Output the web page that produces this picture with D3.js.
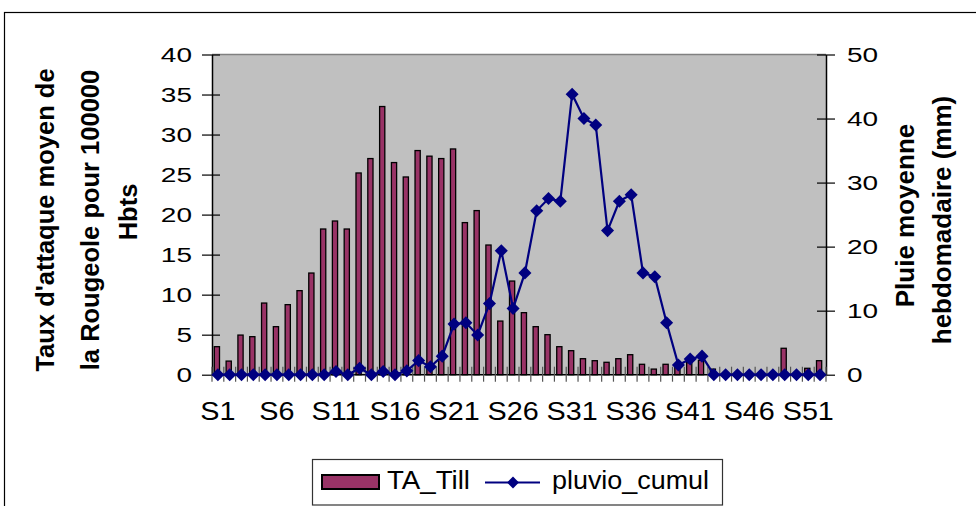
<!DOCTYPE html>
<html>
<head>
<meta charset="utf-8">
<script src="https://cdn.jsdelivr.net/npm/d3@7"></script>
<style>
  html, body { margin: 0; padding: 0; background: #fff; }
  svg { display: block; }
  text { font-family: "Liberation Sans", Arial, sans-serif; fill: #000; }
</style>
</head>
<body>
<svg id="chart" width="976" height="506"></svg>
<script>
// Weekly measles attack rate (bars, left axis) and weekly mean rainfall (line, right axis)
const weeks = ["S1","S2","S3","S4","S5","S6","S7","S8","S9","S10",
  "S11","S12","S13","S14","S15","S16","S17","S18","S19","S20",
  "S21","S22","S23","S24","S25","S26","S27","S28","S29","S30",
  "S31","S32","S33","S34","S35","S36","S37","S38","S39","S40",
  "S41","S42","S43","S44","S45","S46","S47","S48","S49","S50",
  "S51","S52"];

const taTill = [3.5, 1.7, 4.95, 4.75, 8.95, 6.0, 8.75, 10.5, 12.7, 18.2,
  19.2, 18.2, 25.2, 27.0, 33.5, 26.5, 24.7, 28.0, 27.3, 27.0,
  28.2, 19.0, 20.5, 16.2, 6.7, 11.7, 7.75, 6.0, 5.0, 3.5,
  3.0, 2.0, 1.75, 1.55, 2.0, 2.5, 1.3, 0.7, 1.3, 1.3,
  1.5, 1.8, 0.7, 0, 0, 0, 0, 0, 3.3, 0,
  0.8, 1.75];

const pluvioCumul = [0, 0, 0, 0, 0, 0, 0, 0, 0, 0,
  0.5, 0, 1.0, 0, 0.5, 0, 0.6, 2.2, 1.25, 2.9,
  7.9, 8.1, 6.2, 11.1, 19.35, 10.35, 15.9, 25.6, 27.5, 27.1,
  43.8, 40.0, 39.0, 22.5, 27.1, 28.1, 15.9, 15.3, 8.1, 1.5,
  2.45, 2.9, 0, 0, 0, 0, 0, 0, 0, 0,
  0, 0];

const leftTicks = [0, 5, 10, 15, 20, 25, 30, 35, 40];
const rightTicks = [0, 10, 20, 30, 40, 50];
const weekLabels = ["S1","S6","S11","S16","S21","S26","S31","S36","S41","S46","S51"];

const seriesNames = ["TA_Till", "pluvio_cumul"];
const leftTitle = ["Taux d'attaque moyen de", "la Rougeole pour 100000", "Hbts"];
const rightTitle = ["Pluie moyenne", "hebdomadaire (mm)"];

const barColor = "#993366";
const lineColor = "#000080";

const svg = d3.select("#chart");
const plot = { left: 212, right: 826, top: 54.5, bottom: 374.7 };

// Outer chart frame
svg.append("rect")
  .attr("x", 4.5).attr("y", 12.5)
  .attr("width", 1100).attr("height", 700)
  .attr("fill", "#fff").attr("stroke", "#000").attr("stroke-width", 1.2);

const x = d3.scaleBand().domain(weeks).range([plot.left, plot.right]).padding(0);
const yL = d3.scaleLinear().domain([0, 40]).range([plot.bottom, plot.top]);
const yR = d3.scaleLinear().domain([0, 50]).range([plot.bottom, plot.top]);

// Plot area background
svg.append("rect")
  .attr("x", plot.left).attr("y", plot.top)
  .attr("width", plot.right - plot.left).attr("height", plot.bottom - plot.top)
  .attr("fill", "#c0c0c0");
svg.append("line")
  .attr("x1", plot.left).attr("x2", plot.right)
  .attr("y1", plot.top).attr("y2", plot.top)
  .attr("stroke", "#808080").attr("stroke-width", 1.5);

// Bars
const barW = 5.2;
svg.append("g").selectAll("rect")
  .data(weeks.map((w, i) => ({ w, v: taTill[i] })))
  .join("rect")
  .attr("x", d => x(d.w) + x.bandwidth() / 2 - barW / 2 - 1)
  .attr("y", d => yL(d.v))
  .attr("width", barW)
  .attr("height", d => plot.bottom - yL(d.v))
  .attr("fill", barColor)
  .attr("stroke", "#000")
  .attr("stroke-width", 1.3);

// Left axis
const gL = svg.append("g").attr("transform", `translate(${plot.left},0)`)
  .call(d3.axisLeft(yL).tickValues(leftTicks).tickSizeInner(10).tickSizeOuter(0).tickFormat(d3.format("d")));
gL.select(".domain").attr("stroke", "#000").attr("stroke-width", 1.5);
gL.selectAll(".tick line").attr("x2", 8).attr("x1", -10).attr("stroke", "#000").attr("stroke-width", 1.2);
gL.selectAll(".tick text")
  .attr("x", null).attr("dy", null)
  .attr("font-size", 20)
  .attr("text-anchor", "end")
  .attr("dominant-baseline", "central")
  .attr("transform", "translate(-20,0) scale(1.4,1)");

// Right axis
const gR = svg.append("g").attr("transform", `translate(${plot.right},0)`)
  .call(d3.axisRight(yR).tickValues(rightTicks).tickSizeInner(9).tickSizeOuter(0).tickFormat(d3.format("d")));
gR.select(".domain").attr("stroke", "#000").attr("stroke-width", 1.5);
gR.selectAll(".tick line").attr("x1", -9).attr("x2", 9).attr("stroke", "#000").attr("stroke-width", 1.2);
gR.selectAll(".tick text")
  .attr("x", null).attr("dy", null)
  .attr("font-size", 20)
  .attr("text-anchor", "start")
  .attr("dominant-baseline", "central")
  .attr("transform", "translate(21,0) scale(1.4,1)");

// Bottom axis: ticks at every band boundary, labels every fifth week
const gB = svg.append("g").attr("transform", `translate(0,${plot.bottom})`);
gB.append("line")
  .attr("x1", plot.left).attr("x2", plot.right)
  .attr("stroke", "#000").attr("stroke-width", 1.5);
gB.selectAll("line.tk")
  .data(weeks.concat(["end"]))
  .join("line")
  .attr("class", "tk")
  .attr("x1", (d, i) => i < weeks.length ? x(d) : plot.right)
  .attr("x2", (d, i) => i < weeks.length ? x(d) : plot.right)
  .attr("y1", -8).attr("y2", 7)
  .attr("stroke", "#555").attr("stroke-width", 1.2);
gB.selectAll("text")
  .data(weekLabels)
  .join("text")
  .attr("transform", d => `translate(${x(d) + x.bandwidth() / 2},45) scale(1.15,1)`)
  .attr("text-anchor", "middle")
  .attr("font-size", 25)
  .text(d => d);

// Rainfall line with diamond markers
const pts = weeks.map((w, i) => ({ w, v: pluvioCumul[i] }));
svg.append("path")
  .datum(pts)
  .attr("fill", "none")
  .attr("stroke", lineColor)
  .attr("stroke-width", 2.2)
  .attr("d", d3.line().x(d => x(d.w) + x.bandwidth() / 2).y(d => yR(d.v)));
const diamond = d3.symbol().type(d3.symbolDiamond2 || d3.symbolSquare).size(85);
svg.append("g").selectAll("path")
  .data(pts)
  .join("path")
  .attr("transform", d => `translate(${x(d.w) + x.bandwidth() / 2},${yR(d.v)}) rotate(45)`)
  .attr("d", d3.symbol().type(d3.symbolSquare).size(85))
  .attr("fill", lineColor);

// Axis titles
const leftPos = [[53.5, 220], [98.5, 220], [136.7, 212]];
leftTitle.forEach((t, i) => {
  svg.append("text")
    .attr("transform", `translate(${leftPos[i][0]},${leftPos[i][1]}) rotate(-90)`)
    .attr("text-anchor", "middle")
    .attr("font-size", 25.5)
    .attr("font-weight", "bold")
    .text(t);
});
const rightPos = [[913.6, 215.5], [950.6, 220]];
rightTitle.forEach((t, i) => {
  svg.append("text")
    .attr("transform", `translate(${rightPos[i][0]},${rightPos[i][1]}) rotate(-90)`)
    .attr("text-anchor", "middle")
    .attr("font-size", 26)
    .attr("font-weight", "bold")
    .text(t);
});

// Legend
const lg = svg.append("g");
lg.append("rect")
  .attr("x", 312.5).attr("y", 459.5).attr("width", 410).attr("height", 45.5)
  .attr("fill", "#fff").attr("stroke", "#333").attr("stroke-width", 1.2);
lg.append("rect")
  .attr("x", 322).attr("y", 475).attr("width", 57).attr("height", 14)
  .attr("fill", barColor).attr("stroke", "#000").attr("stroke-width", 2);
lg.append("text")
  .attr("x", 387).attr("y", 488.5)
  .attr("font-size", 25)
  .attr("textLength", 83).attr("lengthAdjust", "spacingAndGlyphs")
  .text(seriesNames[0]);
lg.append("line")
  .attr("x1", 485).attr("x2", 540).attr("y1", 482.5).attr("y2", 482.5)
  .attr("stroke", lineColor).attr("stroke-width", 2.2);
lg.append("path")
  .attr("transform", "translate(513,482.5) rotate(45)")
  .attr("d", d3.symbol().type(d3.symbolSquare).size(70))
  .attr("fill", lineColor);
lg.append("text")
  .attr("x", 552).attr("y", 488.5)
  .attr("font-size", 25)
  .attr("textLength", 157).attr("lengthAdjust", "spacingAndGlyphs")
  .text(seriesNames[1]);
</script>
</body>
</html>
